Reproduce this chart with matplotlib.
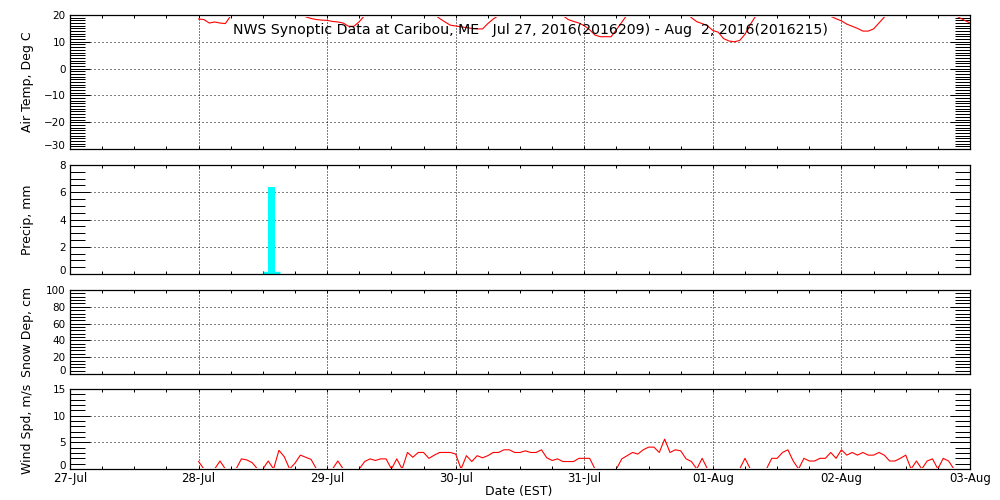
import matplotlib
matplotlib.use("Agg")
import matplotlib.pyplot as plt
import numpy as np
from matplotlib.ticker import MultipleLocator
from matplotlib.transforms import Bbox, TransformedBbox

# x axis: hours since 27-Jul 00:00 EST
day_labels = ["27-Jul", "28-Jul", "29-Jul", "30-Jul", "31-Jul", "01-Aug", "02-Aug", "03-Aug"]

temp_hours = list(range(24, 169))
temp_c = [
    18.5, 18.3, 17.0, 17.4, 17.0, 16.8, 19.7, 22.0, 24.0, 25.0, 26.0, 27.0,   # 24-35
    27.0, 27.0, 26.0, 25.0, 24.0, 23.0, 22.0, 20.8, 19.3, 18.7, 18.3, 18.1,   # 36-47
    18.0, 17.6, 17.4, 17.0, 15.8, 15.8, 17.5, 19.8, 22.0, 24.0, 25.0, 26.0,   # 48-59
    27.0, 27.0, 26.0, 25.0, 24.0, 23.0, 22.0, 21.0, 20.2, 18.7, 17.4, 16.2,   # 60-71
    15.9, 15.6, 15.3, 15.0, 14.8, 14.8, 16.8, 18.5, 19.8, 22.0, 24.0, 25.0,   # 72-83
    26.0, 27.0, 27.0, 26.0, 25.0, 24.0, 23.0, 21.5, 19.8, 18.3, 17.6, 17.0,   # 84-95
    16.0, 14.5, 12.5, 11.9, 11.9, 11.9, 14.5, 17.3, 20.1, 22.0, 24.0, 25.0,   # 96-107
    26.0, 27.0, 27.0, 26.0, 25.0, 24.0, 22.5, 21.0, 19.0, 17.5, 16.8, 16.0,   # 108-119
    14.2, 13.6, 11.2, 10.3, 10.0, 10.5, 12.8, 16.5, 19.6, 22.0, 24.0, 25.0,   # 120-131
    26.0, 27.0, 27.0, 26.0, 25.0, 24.0, 23.0, 22.0, 20.8, 19.9, 19.5, 18.6,   # 132-143
    17.8, 16.6, 15.8, 15.0, 14.0, 14.0, 14.8, 17.0, 19.2, 21.5, 23.0, 25.0,   # 144-155
    26.0, 27.0, 27.0, 26.0, 25.0, 24.0, 23.0, 22.0, 21.5, 20.5, 19.0, 18.0,   # 156-167
    17.0,                                                                     # 168
]

wind_hours = list(range(24, 166))
wind_ms = [
    1.4, 0.0, 0.0, 0.0, 1.5, 0.0, 0.0, 0.0, 1.9, 1.7, 1.2, 0.0,   # 24-35
    0.0, 1.5, 0.0, 3.5, 2.3, 0.0, 1.1, 2.6, 2.2, 1.8, 0.0, 0.0,   # 36-47
    0.0, 0.0, 1.5, 0.0, 0.0, 0.0, 0.0, 1.4, 1.9, 1.6, 1.9, 1.9,   # 48-59
    0.0, 1.9, 0.0, 3.1, 2.2, 3.1, 3.1, 2.0, 2.6, 3.1, 3.1, 3.1,   # 60-71
    2.8, 0.0, 2.5, 1.4, 2.5, 2.1, 2.5, 3.1, 3.1, 3.6, 3.6, 3.1,   # 72-83
    3.1, 3.4, 3.1, 3.1, 3.6, 2.1, 1.6, 1.9, 1.4, 1.4, 1.4, 2.0,   # 84-95
    2.0, 2.0, 0.0, 0.0, 0.0, 0.0, 0.0, 1.9, 2.5, 3.1, 2.8, 3.6,   # 96-107
    4.1, 4.1, 3.1, 5.6, 3.1, 3.6, 3.4, 1.9, 1.4, 0.0, 2.0, 0.0,   # 108-119
    0.0, 0.0, 0.0, 0.0, 0.0, 0.0, 2.0, 0.0, 0.0, 0.0, 0.0, 2.0,   # 120-131
    2.0, 3.1, 3.6, 1.5, 0.0, 2.0, 1.5, 1.5, 2.0, 2.0, 3.1, 2.0,   # 132-143
    3.6, 2.6, 3.1, 2.6, 3.1, 2.6, 2.6, 3.1, 2.6, 1.5, 1.5, 2.0,   # 144-155
    2.6, 0.0, 1.5, 0.0, 1.5, 1.9, 0.0, 2.0, 1.5, 0.0,             # 156-165
]

precip_hours = [37.6]
precip_mm = [6.35]

snow_hours = []
snow_cm = []

title = "NWS Synoptic Data at Caribou, ME   Jul 27, 2016(2016209) - Aug  2, 2016(2016215)"

# (ylabel, ylim, major step, minor step, axes rect in figure fraction)
panels = [
    ("Air Temp, Deg C", (-30, 20), 10, 1, [0.07, 0.702, 0.90, 0.268]),
    ("Precip, mm", (0, 8), 2, 0.5, [0.07, 0.452, 0.90, 0.218]),
    ("Snow Dep, cm", (0, 100), 20, 4, [0.07, 0.252, 0.90, 0.168]),
    ("Wind Spd, m/s", (0, 15), 5, 1, [0.07, 0.062, 0.90, 0.160]),
]

fig = plt.figure(figsize=(10, 5), dpi=100)
axes = []
for label, (lo, hi), major, minor, rect in panels:
    ax = fig.add_axes(rect)
    ax.set_xlim(0, 168)
    ax.set_ylim(lo, hi)
    ax.set_xticks(np.arange(0, 169, 24))
    ax.xaxis.set_minor_locator(MultipleLocator(6))
    ax.set_yticks(np.arange(lo, hi + major / 2, major))
    ax.yaxis.set_minor_locator(MultipleLocator(minor))
    ax.tick_params(which="both", direction="in", top=True, right=True,
                   width=0.72, color="black")
    ax.tick_params(axis="y", which="major", length=14.4, pad=3, labelsize=7.5)
    ax.tick_params(axis="y", which="minor", length=10.5)
    ax.tick_params(axis="x", which="both", length=2.5, pad=2.5, labelsize=8.5)
    ax.grid(axis="y", which="major", color="black", lw=0.72, linestyle=(0, (1, 3)))
    ax.grid(axis="x", which="major", color="black", lw=0.72, linestyle=(0, (1, 2)))
    for sp in ax.spines.values():
        sp.set_linewidth(0.9)
        sp.set_zorder(4)
    ax.set_xticklabels([])
    # lowest label sits a little above its tick, as in the original
    ax.get_yticklabels()[0].set_verticalalignment("baseline")
    y_mid = rect[1] + rect[3] / 2
    fig.text(0.028, y_mid, label, rotation=90, ha="center", va="center", fontsize=9)
    axes.append(ax)

ax_t, ax_p, ax_s, ax_w = axes


def inner_clip(line, ax, px=1.5):
    h = ax.bbox.height
    box = Bbox([[0, px / h], [1, 1 - px / h]])
    line.set_clip_box(TransformedBbox(box, ax.transAxes))


(t_line,) = ax_t.plot(temp_hours, temp_c, color="red", lw=0.8)
inner_clip(t_line, ax_t)

bar_w = 1.4
ax_p.bar(precip_hours, precip_mm, width=bar_w, color="cyan", zorder=3)
ax_p.hlines([0.05] * len(precip_hours), [h - 1.6 for h in precip_hours],
            [h + 1.6 for h in precip_hours], color="cyan", lw=2.5, zorder=3)

ax_s.plot(snow_hours, snow_cm, color="red", lw=0.8)

(w_line,) = ax_w.plot(wind_hours, wind_ms, color="red", lw=0.8)
inner_clip(w_line, ax_w)
ax_w.set_xticklabels(day_labels)

fig.text(0.53, 1 - 30 / 500, title, ha="center", va="center", fontsize=10.2)
fig.text(0.519, 1 - 491 / 500, "Date (EST)", ha="center", va="center", fontsize=9)

fig.savefig("out.png", dpi=100)
